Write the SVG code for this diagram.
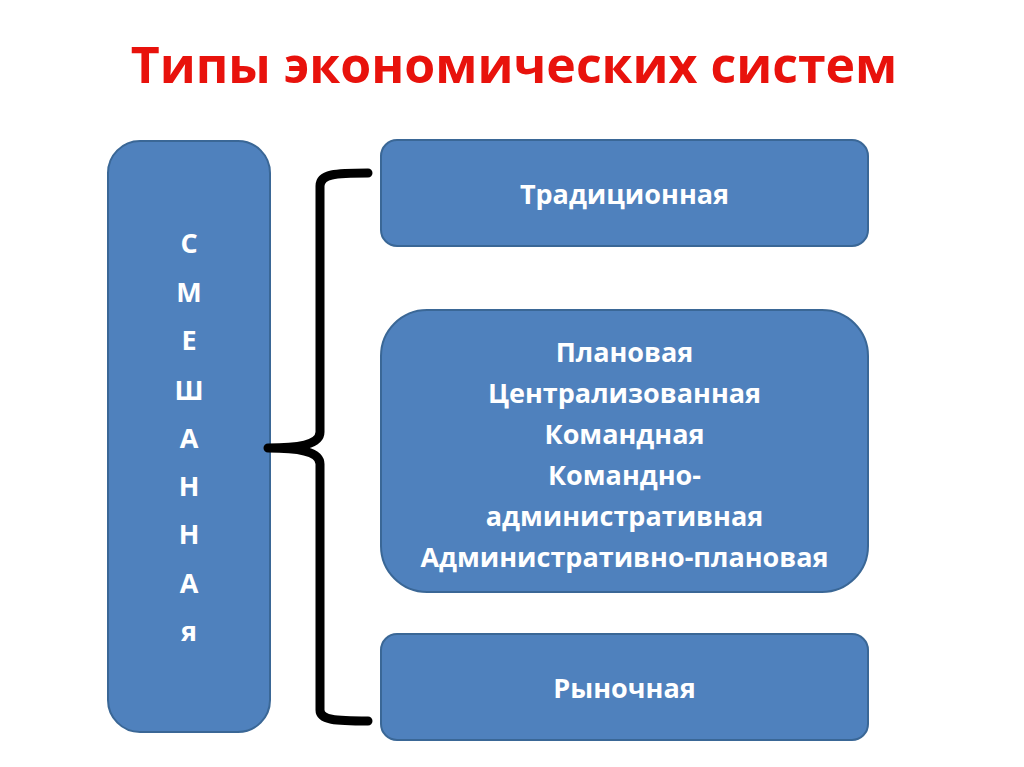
<svg xmlns="http://www.w3.org/2000/svg" width="1024" height="767" viewBox="0 0 1024 767">
<style>
.box{fill:#4F81BD;stroke:#3A6796;stroke-width:2}
.t{font-family:"Open Sans","Liberation Sans",sans-serif;font-weight:bold;font-size:27px;fill:#FFFFFF;text-anchor:middle}
.title{font-family:"Open Sans","Liberation Sans",sans-serif;font-weight:bold;font-size:50px;fill:#E8120C;text-anchor:middle}
.brace{fill:none;stroke:#000000;stroke-width:9;stroke-linecap:round;stroke-linejoin:round}
</style>
<rect width="1024" height="767" fill="#FFFFFF"/>
<text class="title" x="514" y="83">Типы экономических систем</text>
<g id="mixed">
<rect class="box" x="108" y="141" width="162" height="591" rx="32"/>
<text class="t" x="189" y="253">С</text>
<text class="t" x="189" y="302">М</text>
<text class="t" x="189" y="350">Е</text>
<text class="t" x="189" y="400">Ш</text>
<text class="t" x="189" y="448">А</text>
<text class="t" x="189" y="496">Н</text>
<text class="t" x="189" y="544">Н</text>
<text class="t" x="189" y="593">А</text>
<text class="t" x="189" y="641">я</text>
</g>
<g id="connectors">
<path class="brace" d="M368,173 C335,173 320,174 320,186 L320,432 C320,444 300,448 268,448 C300,448 320,452 320,464 L320,710 C320,720 335,721 368,721"/>
</g>
<g id="traditional">
<rect class="box" x="381" y="140" width="487" height="106" rx="16"/>
<text class="t" x="624.5" y="204">Традиционная</text>
</g>
<g id="planned">
<rect class="box" x="381" y="310" width="487" height="282" rx="46"/>
<text class="t" x="624.5" y="362">Плановая</text>
<text class="t" x="624.5" y="403">Централизованная</text>
<text class="t" x="624.5" y="444">Командная</text>
<text class="t" x="624.5" y="485">Командно-</text>
<text class="t" x="624.5" y="526">административная</text>
<text class="t" x="624.5" y="567">Административно-плановая</text>
</g>
<g id="market">
<rect class="box" x="381" y="634" width="487" height="106" rx="16"/>
<text class="t" x="624.5" y="698">Рыночная</text>
</g>
</svg>
